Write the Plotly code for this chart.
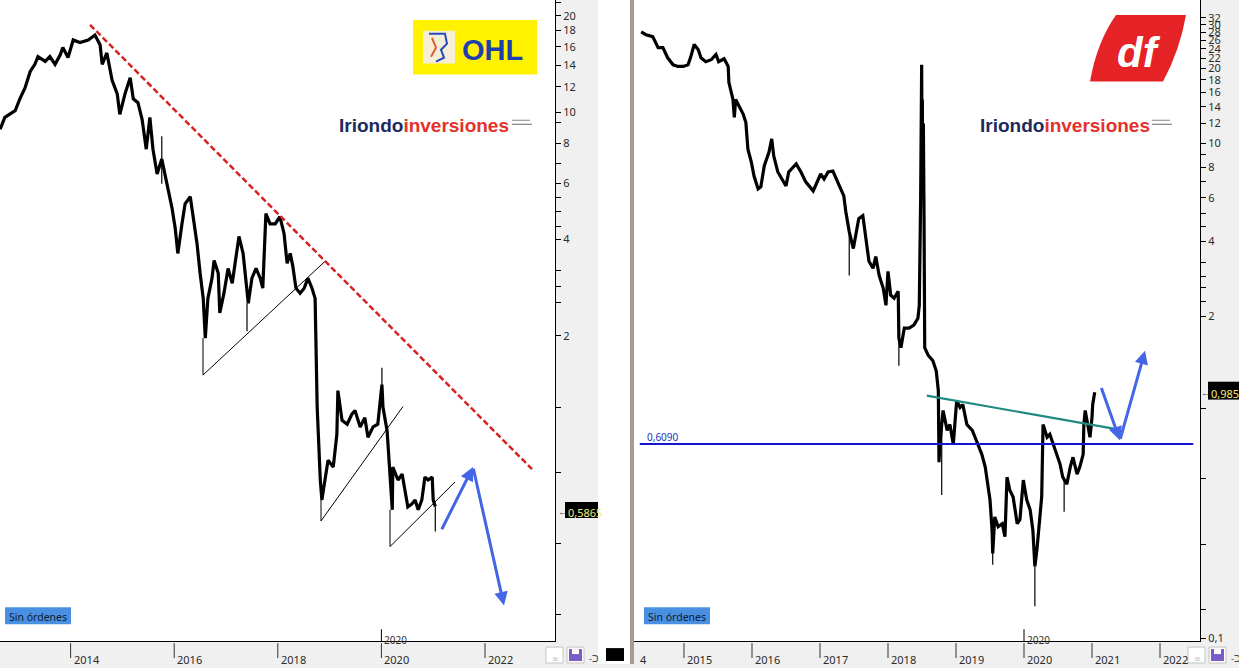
import numpy as np
import plotly.graph_objects as go

W, H = 1239, 668
def px(x): return x / W
def py(y): return 1 - y / H

# ---------------- DATA ----------------
# OHL (left panel): decimal year, price (EUR)
ohl_years = [2012.64, 2012.73, 2012.93, 2013.02, 2013.12, 2013.22, 2013.31, 2013.37, 2013.51, 2013.60,
             2013.70, 2013.80, 2013.85, 2013.95, 2014.05, 2014.18, 2014.34, 2014.47, 2014.57, 2014.61,
             2014.70, 2014.80, 2014.90, 2014.95, 2015.05, 2015.15, 2015.21, 2015.30, 2015.38, 2015.46,
             2015.53, 2015.59, 2015.67, 2015.76, 2015.86, 2015.96, 2016.02, 2016.07, 2016.15, 2016.21,
             2016.31, 2016.36, 2016.44, 2016.50, 2016.56, 2016.60, 2016.65, 2016.73, 2016.77, 2016.85,
             2016.88, 2016.96, 2017.04, 2017.12, 2017.19, 2017.25, 2017.33, 2017.39, 2017.43, 2017.50,
             2017.58, 2017.66, 2017.71, 2017.77, 2017.85, 2017.95, 2018.04, 2018.12, 2018.18, 2018.24,
             2018.29, 2018.35, 2018.43, 2018.51, 2018.58, 2018.66, 2018.72, 2018.76, 2018.78, 2018.82,
             2018.85, 2018.91, 2018.97, 2019.07, 2019.14, 2019.16, 2019.24, 2019.34, 2019.43, 2019.49,
             2019.59, 2019.68, 2019.74, 2019.84, 2019.93, 2020.01, 2020.03, 2020.11, 2020.13, 2020.17,
             2020.21, 2020.22, 2020.32, 2020.40, 2020.46, 2020.51, 2020.59, 2020.65, 2020.71, 2020.78,
             2020.84, 2020.90, 2020.98, 2021.00, 2021.04]
ohl_close = [8.84, 9.63, 10.1, 11.0, 11.9, 13.4, 14.1, 14.9, 14.4, 14.9,
             14.1, 15.1, 15.9, 14.8, 16.8, 16.5, 16.8, 17.4, 16.2, 14.1,
             15.3, 12.6, 11.4, 9.84, 11.4, 12.8, 11.0, 10.7, 9.50, 7.66,
             9.63, 7.66, 6.41, 7.14, 5.97, 4.99, 4.33, 3.62, 4.48, 5.17,
             5.44, 4.82, 3.89, 3.14, 2.62, 1.97, 2.62, 3.03, 3.44, 3.14,
             2.36, 2.72, 3.25, 2.92, 3.49, 4.09, 3.62, 2.82, 2.53, 3.03,
             3.25, 3.03, 2.82, 4.82, 4.48, 4.48, 4.72, 4.18, 3.37, 3.62,
             3.30, 2.82, 2.72, 2.82, 3.03, 2.82, 2.62, 1.20, 0.986, 0.71,
             0.615, 0.71, 0.819, 0.779, 0.986, 1.35, 1.09, 1.06, 1.14, 1.17,
             1.04, 1.11, 0.965, 1.04, 1.06, 1.41, 1.20, 1.01, 0.90, 0.675,
             0.573, 0.779, 0.71, 0.741, 0.642, 0.585, 0.598, 0.615, 0.573, 0.615,
             0.725, 0.71, 0.725, 0.615, 0.5865]
ohl_wick_x = [2015.76, 2017.405, 2020.01, 2021.04]
ohl_wick_lo = [5.97, 2.07, 1.20, 0.49]
ohl_wick_hi = [8.41, 2.53, 1.59, 0.5865]

# Duro Felguera (right panel)
df_years = [2014.37, 2014.44, 2014.54, 2014.62, 2014.69, 2014.76, 2014.84, 2014.91, 2014.99, 2015.06,
            2015.10, 2015.15, 2015.21, 2015.25, 2015.32, 2015.40, 2015.47, 2015.51, 2015.59, 2015.65,
            2015.66, 2015.72, 2015.74, 2015.76, 2015.81, 2015.87, 2015.91, 2015.94, 2015.99, 2016.03,
            2016.09, 2016.13, 2016.18, 2016.25, 2016.29, 2016.32, 2016.38, 2016.46, 2016.50, 2016.54,
            2016.65, 2016.72, 2016.79, 2016.90, 2016.97, 2017.01, 2017.06, 2017.12, 2017.19, 2017.24,
            2017.31, 2017.35, 2017.38, 2017.43, 2017.49, 2017.53, 2017.57, 2017.63, 2017.68, 2017.72,
            2017.78, 2017.82, 2017.87, 2017.93, 2017.97, 2018.00, 2018.04, 2018.09, 2018.15, 2018.16,
            2018.19, 2018.24, 2018.31, 2018.38, 2018.44, 2018.46,
            2018.48, 2018.49, 2018.495, 2018.50, 2018.505, 2018.51, 2018.52, 2018.53, 2018.54,
            2018.59, 2018.66, 2018.71, 2018.74, 2018.75, 2018.76, 2018.79, 2018.81, 2018.87, 2018.91,
            2018.96, 2018.99, 2019.01, 2019.06, 2019.10,
            2019.16, 2019.24, 2019.28, 2019.32, 2019.38, 2019.43, 2019.47, 2019.50, 2019.53, 2019.54,
            2019.57, 2019.62, 2019.68, 2019.72, 2019.75, 2019.79, 2019.84, 2019.90, 2019.94, 2019.99,
            2020.04, 2020.09, 2020.13, 2020.16, 2020.19, 2020.22, 2020.26, 2020.28, 2020.34, 2020.38,
            2020.43, 2020.49, 2020.53, 2020.57, 2020.63, 2020.68, 2020.72, 2020.78, 2020.82, 2020.87,
            2020.88, 2020.90, 2020.93, 2020.97, 2021.00, 2021.01, 2021.04]
df_close = [28.1, 27.4, 26.9, 24.3, 24.3, 22.1, 20.7, 20.4, 20.4, 20.7,
            22.3, 25.0, 23.8, 22.1, 21.3, 21.7, 22.8, 21.3, 21.9, 20.4,
            17.6, 15.0, 12.7, 15.0, 14.1, 13.1, 12.1, 9.45, 8.38, 7.36,
            6.53, 6.65, 8.08, 9.19, 10.4, 8.86, 7.64, 6.97, 6.71, 7.64,
            8.23, 7.64, 6.97, 6.41, 7.03, 7.50, 7.16, 7.64, 7.71, 7.16,
            6.53, 6.12, 5.28, 4.39, 3.75, 4.39, 4.95, 5.09, 4.11, 3.33,
            3.12, 3.48, 2.92, 2.59, 2.21, 3.03, 2.43, 2.36, 2.52, 1.63,
            1.49, 1.79, 1.79, 1.84, 1.96, 2.21,
            5.95, 13.3, 20.7, 10.4, 15.0, 7.64, 12.0, 5.0, 1.49,
            1.39, 1.32, 1.20, 1.00, 0.514, 0.59, 0.73, 0.831, 0.691, 0.73,
            0.607, 0.779, 0.912, 0.855, 0.879,
            0.73, 0.691, 0.648, 0.607, 0.553, 0.491, 0.419, 0.362, 0.274, 0.22,
            0.309, 0.282, 0.29, 0.257, 0.447, 0.397, 0.372, 0.29, 0.301, 0.435,
            0.362, 0.33, 0.274, 0.195, 0.228, 0.274, 0.372, 0.73, 0.648, 0.666,
            0.607, 0.538, 0.505, 0.447, 0.419, 0.491, 0.538, 0.46, 0.491, 0.553,
            0.73, 0.831, 0.758, 0.648, 0.779, 0.879, 0.985]
df_wick_x = [2017.43, 2018.16, 2018.79, 2019.54, 2020.16, 2020.59]
df_wick_lo = [2.92, 1.26, 0.379, 0.198, 0.1345, 0.324]
df_wick_hi = [4.39, 1.63, 0.73, 0.274, 0.195, 0.447]
assert len(ohl_years) == len(ohl_close) and len(df_years) == len(df_close)

# Drawn lines
ohl_resist_x, ohl_resist_y = [2014.375, 2022.907], [18.73, 0.768]
ohl_chanA_x, ohl_chanA_y = [2016.556, 2016.556, 2018.911], [1.97, 1.51, 3.42]
ohl_chanB_x, ohl_chanB_y = [2018.834, 2018.834, 2020.417], [0.615, 0.529, 1.204]
ohl_chanC_x, ohl_chanC_y = [2020.166, 2020.166, 2021.421], [0.573, 0.44, 0.70]
ohl_arrow_x, ohl_arrow_y = [2021.151, 2021.768, 2022.367], [0.493, 0.779, 0.288]
df_trend_x, df_trend_y = [2018.57, 2021.38], [0.955, 0.697]
df_support = 0.609
df_support_x = [2014.35, 2022.49]
df_arrow_x, df_arrow_y = [2021.13, 2021.41, 2021.78], [1.04, 0.63, 1.45]

ohl_last, df_last = "0,5865", "0,985"

years_left = [2014, 2016, 2018, 2020, 2022]
years_right = [2015, 2016, 2017, 2018, 2019, 2020, 2021, 2022]
ohl_major = [2, 4, 6, 8, 10, 12, 14, 16, 18, 20, 22]
ohl_minor = [0.27, 0.45, 0.75, 1.2, 2.55, 2.85, 3.2, 4.4, 4.9, 5.4, 6.9, 9.3]
df_major = [0.1, 2, 4, 6, 8, 10, 12, 14, 16, 18, 20, 22, 24, 26, 28, 30, 32]
df_minor = [0.13, 0.24, 0.44, 0.85, 2.3, 2.6, 2.9, 3.3, 4.6, 5.2, 7, 9]

def fmt(v):
    return ("%g" % v).replace(".", ",")

# ---------------- FIGURE ----------------
fig = go.Figure()
BLACK_W = 3.2
TXT_DY = 3  # vertical correction for annotation text baseline

def wick_trace(xs, lo, hi, xa, ya):
    X, Y = [], []
    for x, a, b in zip(xs, lo, hi):
        X += [x, x, None]
        Y += [a, b, None]
    return go.Scatter(x=X, y=Y, mode="lines", line=dict(color="black", width=1.2),
                      xaxis=xa, yaxis=ya, hoverinfo="skip", showlegend=False)

# left panel
fig.add_trace(go.Scatter(x=ohl_years, y=ohl_close, mode="lines",
                         line=dict(color="black", width=BLACK_W), xaxis="x", yaxis="y",
                         hoverinfo="skip", showlegend=False))
fig.add_trace(wick_trace(ohl_wick_x, ohl_wick_lo, ohl_wick_hi, "x", "y"))
for cx, cy in [(ohl_chanA_x, ohl_chanA_y), (ohl_chanB_x, ohl_chanB_y), (ohl_chanC_x, ohl_chanC_y)]:
    fig.add_trace(go.Scatter(x=cx, y=cy, mode="lines", line=dict(color="black", width=1),
                             xaxis="x", yaxis="y", hoverinfo="skip", showlegend=False))
fig.add_trace(go.Scatter(x=ohl_resist_x, y=ohl_resist_y, mode="lines",
                         line=dict(color="#d62222", width=2.5, dash="6px,3px"),
                         xaxis="x", yaxis="y", hoverinfo="skip", showlegend=False))

# right panel
fig.add_trace(go.Scatter(x=df_years, y=df_close, mode="lines",
                         line=dict(color="black", width=BLACK_W), xaxis="x2", yaxis="y2",
                         hoverinfo="skip", showlegend=False))
fig.add_trace(wick_trace(df_wick_x, df_wick_lo, df_wick_hi, "x2", "y2"))
fig.add_trace(go.Scatter(x=df_support_x, y=[df_support, df_support], mode="lines",
                         line=dict(color="#1414d2", width=2), xaxis="x2", yaxis="y2",
                         hoverinfo="skip", showlegend=False))
fig.add_trace(go.Scatter(x=df_trend_x, y=df_trend_y, mode="lines",
                         line=dict(color="#1f8a80", width=2.2), xaxis="x2", yaxis="y2",
                         hoverinfo="skip", showlegend=False))

ARROW = "#4466e6"
annotations = []
def arrow(xs, ys, xr, yr):
    for i in range(len(xs) - 1):
        annotations.append(dict(x=xs[i + 1], y=np.log10(ys[i + 1]), ax=xs[i], ay=np.log10(ys[i]),
                                xref=xr, yref=yr, axref=xr, ayref=yr, showarrow=True,
                                arrowhead=2, arrowsize=0.9, arrowwidth=3, arrowcolor=ARROW,
                                standoff=0, text=""))
arrow(ohl_arrow_x, ohl_arrow_y, "x", "y")
arrow(df_arrow_x, df_arrow_y, "x2", "y2")

TICKFONT = dict(family="Noto Sans, Open Sans, sans-serif", size=11, color="#2a2a2a")

def yaxis_cfg(major, minor, rng, anchor, major_fmt):
    vals = list(major) + list(minor)
    text = [major_fmt(v) for v in major] + [""] * len(minor)
    return dict(type="log", range=[np.log10(rng[0]), np.log10(rng[1])], domain=[py(645), 1],
                side="right", anchor=anchor, showline=True, linecolor="black", linewidth=1,
                ticks="outside", ticklen=5, tickcolor="black", tickwidth=1,
                tickvals=vals, ticktext=text, tickfont=TICKFONT, showgrid=False,
                zeroline=False, fixedrange=True)

def xaxis_cfg(domain, rng, anchor):
    return dict(domain=domain, range=rng, anchor=anchor, showline=True, linecolor="black",
                linewidth=1, showticklabels=False, ticks="", showgrid=False, zeroline=False,
                fixedrange=True)

shapes = []
def rect(x0, y0, x1, y1, fill, line=None, lw=0, layer="above"):
    shapes.append(dict(type="rect", xref="paper", yref="paper", x0=px(x0), x1=px(x1),
                       y0=py(y1), y1=py(y0), fillcolor=fill,
                       line=dict(color=line or fill, width=lw), layer=layer))

def text(x, y, t, size=11, color="#2a2a2a", xanchor="left", family=None, yanchor="middle", dy=TXT_DY):
    annotations.append(dict(x=px(x), y=py(y + dy), xref="paper", yref="paper", text=t,
                            showarrow=False, xanchor=xanchor, yanchor=yanchor,
                            font=dict(size=size, color=color,
                                      family=family or "Noto Sans, Open Sans, sans-serif")))

# white gap between panels and separator
rect(598, 0, 630, 668, "white", layer="below")
rect(630, 0, 634, 668, "#a59b92")

# year ticks
for xr, yrs in [("x", years_left), ("x2", years_right)]:
    for yr in yrs:
        shapes.append(dict(type="line", xref=xr, yref="paper", x0=yr, x1=yr, y0=py(647), y1=py(662),
                           line=dict(color="#333", width=1)))
        annotations.append(dict(x=yr, y=py(660 + TXT_DY), xref=xr, yref="paper", text=str(yr),
                                showarrow=False, xanchor="left", yanchor="middle", xshift=1,
                                font=TICKFONT))
text(638, 660, "4")

# 2020 cursor markers
for xr in ["x", "x2"]:
    shapes.append(dict(type="line", xref=xr, yref="paper", x0=2020, x1=2020, y0=py(645), y1=py(633),
                       line=dict(color="black", width=1)))
    annotations.append(dict(x=2020, y=py(641 + TXT_DY), xref=xr, yref="paper", text="2020",
                            showarrow=False, xanchor="left", yanchor="middle", xshift=1,
                            font=dict(size=10, color="#333", family="Noto Sans, sans-serif")))

# last price labels
rect(565, 505, 598, 521, "black")
text(566, 513, ohl_last, size=11, color="#f3ee7a")
text(556, 512, "←", size=9, color="#555")
rect(1208, 384, 1239, 402, "black")
text(1209, 393, df_last, size=11, color="#f3ee7a")
text(1199, 392, "←", size=9, color="#555")

# support label
text(645, 437, "0,6090", size=10, color="#2233bb")

# Sin órdenes
for x0 in [5, 644]:
    rect(x0, 611, x0 + 66, 628, "#4a90e2")
    text(x0 + 33, 619.5, "Sin órdenes", size=10.5, color="#0d1b33", xanchor="center", dy=1)

# toolbar icons
for x0 in [546, 1188]:
    rect(x0, 651, x0 + 17, 667, "white", line="#c4c4c4", lw=1)
    text(x0 + 8.5, 659, "≈", size=11, color="#b5b5b5", xanchor="center")
    rect(x0 + 21, 651, x0 + 38, 667, "white", line="#c4c4c4", lw=1)
    rect(x0 + 23, 653, x0 + 36, 665, "#7a5cc8")
    rect(x0 + 26, 653, x0 + 33, 658, "white")
    text(x0 + 41, 659, "-ᑐ", size=9, color="#444")
rect(606, 652, 624, 665, "black")

# OHL logo
rect(413, 20, 537, 75, "#fff200")
rect(423, 31, 455, 64, "#f6efd6")
shapes.append(dict(type="path", xref="paper", yref="paper",
                   path="M %f %f L %f %f L %f %f L %f %f L %f %f L %f %f" % (
                       px(429), py(34), px(445), py(34), px(447), py(44), px(441), py(50),
                       px(444), py(58), px(436), py(62)),
                   line=dict(color="#2b48c0", width=2)))
shapes.append(dict(type="path", xref="paper", yref="paper",
                   path="M %f %f L %f %f L %f %f" % (px(432), py(38), px(436), py(48), px(431), py(57)),
                   line=dict(color="#e05a30", width=2)))
text(492, 47, "<b>OHL</b>", size=29, color="#1d3fae", xanchor="center",
     family="Liberation Sans, Arial, sans-serif")

# DF logo
shapes.append(dict(type="path", xref="paper", yref="paper",
                   path="M %f %f L %f %f Q %f %f %f %f L %f %f Q %f %f %f %f Z" % (
                       px(1116), py(15), px(1186), py(15), px(1180), py(50), px(1163), py(82),
                       px(1090), py(82), px(1097), py(42), px(1116), py(15)),
                   fillcolor="#e52225", line=dict(color="#e52225", width=0)))
text(1139, 50, "<b><i>df</i></b>", size=42, color="white", xanchor="center",
     family="Liberation Sans, Arial, sans-serif")

# Iriondo inversiones watermarks
IRI = "<b><span style='color:#1d2a5e'>Iriondo</span><span style='color:#e4312b'>inversiones</span></b>"
for x0 in [337, 978]:
    text(x0, 123, IRI, size=19, family="Liberation Sans, Arial, sans-serif")
    w = 173 if x0 == 337 else 172
    shapes.append(dict(type="line", xref="paper", yref="paper", x0=px(x0 + w + 2), x1=px(x0 + w + 20),
                       y0=py(121), y1=py(121), line=dict(color="#888", width=1)))
    shapes.append(dict(type="line", xref="paper", yref="paper", x0=px(x0 + w + 2), x1=px(x0 + w + 22),
                       y0=py(125), y1=py(125), line=dict(color="#666", width=1)))

fig.update_layout(
    width=W, height=H, autosize=False,
    margin=dict(l=0, r=0, t=0, b=0, pad=0),
    paper_bgcolor="#f0f0f0", plot_bgcolor="white",
    showlegend=False, hovermode=False,
    xaxis=xaxis_cfg([0, px(555)], [2012.637, 2023.351], "y"),
    yaxis=yaxis_cfg(ohl_major, ohl_minor, [0.2229, 22.39], "x", fmt),
    xaxis2=xaxis_cfg([px(634), px(1200)], [2014.265, 2022.588], "y2"),
    yaxis2=yaxis_cfg(df_major, df_minor, [0.0973, 37.83], "x2", fmt),
    shapes=shapes, annotations=annotations,
)

fig.write_html("out.html", config={"displayModeBar": False},
               post_script="document.body.style.margin='0';document.body.style.padding='0';")
